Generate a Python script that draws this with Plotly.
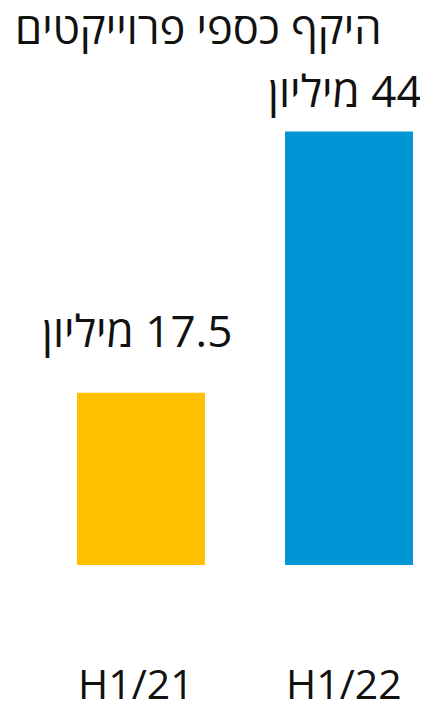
import plotly.graph_objects as go

categories = ["H1/21", "H1/22"]
values = [17.5, 44]
# RLM prefix gives the labels a right-to-left reading order (number on the right)
value_labels = ["\u200f17.5 מיליון", "\u200f44 מיליון"]
title_text = "היקף כספי פרוייקטים"
colors = ["#FFC000", "#0096D6"]

FONT = "Open Sans, Noto Sans, DejaVu Sans, sans-serif"
TXT = "#111111"
xpos = list(range(len(categories)))

fig = go.Figure()
fig.add_trace(go.Bar(
    x=xpos, y=values, width=0.615,
    marker=dict(color=colors, line=dict(width=0)),
    hoverinfo="skip",
))

label_shifts = [63, 41.5]
for xp, v, lab, sh in zip(xpos, values, value_labels, label_shifts):
    fig.add_annotation(x=xp, y=v, text=lab, showarrow=False,
                       xshift=-4, yshift=sh,
                       font=dict(family=FONT, size=44, color=TXT))

for xp, cat in zip(xpos, categories):
    fig.add_annotation(x=xp, y=0, text=cat, showarrow=False,
                       xshift=-5, yshift=-118,
                       font=dict(family=FONT, size=41, color=TXT))

fig.update_layout(
    width=428, height=708,
    margin=dict(l=0, r=0, t=0, b=151),
    paper_bgcolor="white", plot_bgcolor="white",
    showlegend=False,
    title=dict(text=title_text, x=0.0164, xanchor="left", y=0.9703, yanchor="middle",
               font=dict(family=FONT, size=43.5, color=TXT)),
    xaxis=dict(range=[-0.6394, 1.4183], visible=False, automargin=False),
    yaxis=dict(range=[0, 56.55], visible=False, automargin=False),
)

fig.write_html("out.html")
